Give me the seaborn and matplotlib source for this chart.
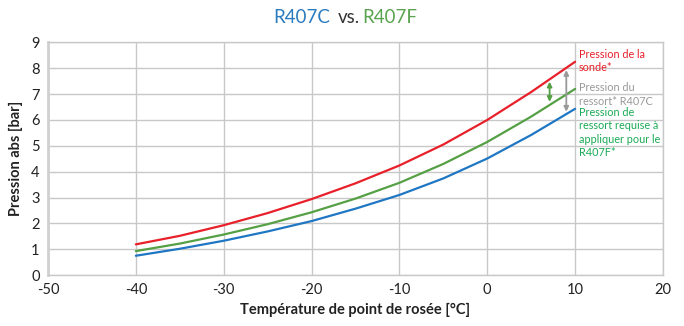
import numpy as np
import pandas as pd
import matplotlib
matplotlib.use("Agg")
import matplotlib.pyplot as plt
import seaborn as sns

temps = [-40, -35, -30, -25, -20, -15, -10, -5, 0, 5, 10]
sonde = [1.19, 1.52, 1.93, 2.40, 2.94, 3.55, 4.24, 5.05, 6.00, 7.08, 8.25]
r407f = [0.93, 1.22, 1.57, 1.97, 2.43, 2.96, 3.57, 4.30, 5.15, 6.13, 7.20]
r407c = [0.75, 1.02, 1.33, 1.69, 2.09, 2.57, 3.10, 3.74, 4.51, 5.42, 6.43]
series_names = ["sonde", "R407F", "R407C"]
xticks = [-50, -40, -30, -20, -10, 0, 10, 20]
yticks = list(range(0, 10))

RED = "#e8202a"
GREEN = "#55a045"
BLUE = "#1f77c4"
GRAY = "#999999"
TGREEN = "#1aaa55"

df = pd.DataFrame({
    "T": temps * 3,
    "P": sonde + r407f + r407c,
    "s": [series_names[0]] * len(temps) + [series_names[1]] * len(temps) + [series_names[2]] * len(temps),
})

sns.set_style("white")
plt.rcParams["font.family"] = ["Lato", "DejaVu Sans"]

fig = plt.figure(figsize=(6.84, 3.26), dpi=100)
ax = fig.add_axes([0.0702, 0.156, 0.899, 0.714])
sns.lineplot(data=df, x="T", y="P", hue="s", palette={"sonde": RED, "R407F": GREEN, "R407C": BLUE},
             linewidth=1.6, ax=ax, legend=False)

ax.set_xlim(-50, 20)
ax.set_ylim(0, 9)
ax.set_xticks(xticks)
ax.set_yticks(yticks)
ax.set_xticklabels([str(v) for v in xticks], fontsize=10.5, color="#222222")
ax.set_yticklabels([str(v) for v in yticks], fontsize=10.5, color="#222222")
ax.tick_params(length=0, pad=6)
ax.grid(True, color="#c8c8c8", linewidth=1)
for sp in ax.spines.values():
    sp.set_color("#c8c8c8")
    sp.set_linewidth(1)
ax.spines["left"].set_color("#d0d0d0")
ax.spines["left"].set_linewidth(2)
ax.set_axisbelow(True)

ax.set_xlabel("Température de point de rosée [°C]", fontsize=10.5, fontweight="bold", color="#222222", labelpad=4)
ax.set_ylabel("Pression abs [bar]", fontsize=10.5, fontweight="bold", color="#222222", labelpad=6)

# title with coloured parts
fig.text(0.399, 0.945, "R407C", color="#2b7bbf", fontsize=13.5, ha="left", va="center")
fig.text(0.494, 0.945, "vs.", color="#333333", fontsize=13.5, ha="left", va="center")
fig.text(0.529, 0.945, "R407F", color="#5aa350", fontsize=13.5, ha="left", va="center")

# arrows
ax.annotate("", xy=(7.1, 7.48), xytext=(7.1, 6.70),
            arrowprops=dict(arrowstyle="<|-|>", color=GREEN, lw=1.3, mutation_scale=7, shrinkA=0, shrinkB=0))
ax.annotate("", xy=(9.0, 7.93), xytext=(9.0, 6.32),
            arrowprops=dict(arrowstyle="<|-|>", color=GRAY, lw=1.3, mutation_scale=7, shrinkA=0, shrinkB=0))

# side labels
ax.text(10.4, 8.75, "Pression de la\nsonde*", color=RED, fontsize=7.8, va="top", ha="left", linespacing=1.25)
ax.text(10.4, 7.45, "Pression du\nressort* R407C", color=GRAY, fontsize=7.8, va="top", ha="left", linespacing=1.25)
ax.text(10.4, 6.5, "Pression de\nressort requise à\nappliquer pour le\nR407F*", color=TGREEN, fontsize=7.8,
        va="top", ha="left", linespacing=1.25)

fig.savefig("out.png", dpi=100)
